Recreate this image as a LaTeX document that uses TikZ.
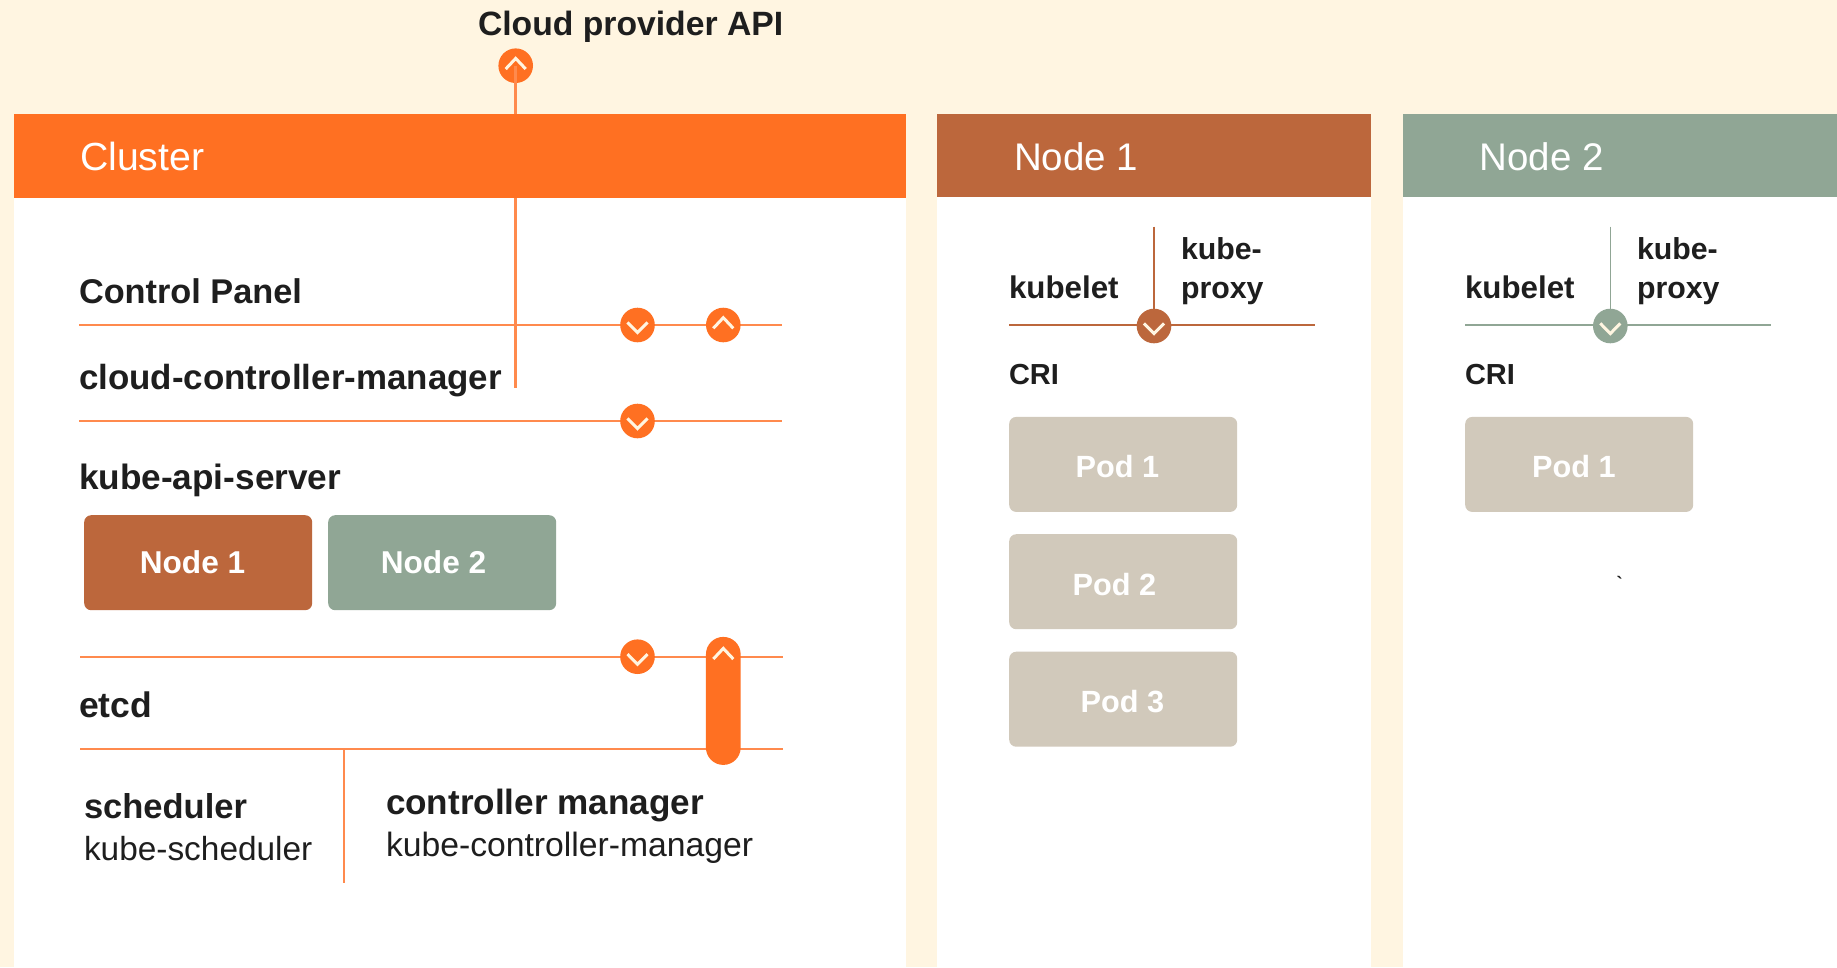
\documentclass[tikz,border=0pt]{standalone}
\usepackage{fontspec}
\setmainfont{Liberation Sans}
\newfontfamily\tickfont{Liberation Sans}
\definecolor{bgc}{HTML}{FFF5E1}
\definecolor{orangec}{HTML}{FF7022}
\definecolor{orangel}{HTML}{FF8A4D}
\definecolor{brownc}{HTML}{BC673C}
\definecolor{greenc}{HTML}{90A695}
\definecolor{podc}{HTML}{D1C9BB}
\definecolor{inkc}{HTML}{1E1E1E}
\tikzset{
  panel/.style={fill=white,draw=none},
  head/.style={draw=none},
  txt/.style={anchor=base west,inner sep=0pt,outer sep=0pt,text=inkc},
  btxt/.style={txt,font=\fontsize{#1}{#1}\selectfont\bfseries},
  rtxt/.style={txt,font=\fontsize{#1}{#1}\selectfont},
  htxt/.style={txt,text=white,font=\fontsize{#1}{#1}\selectfont},
  boxtxt/.style={anchor=base,inner sep=0pt,outer sep=0pt,text=white,font=\fontsize{#1}{#1}\selectfont\bfseries},
  box/.style={rectangle,rounded corners=7pt,inner sep=0pt,minimum width=228pt,minimum height=95pt,anchor=north west},
  dot/.style={circle,fill=#1,draw=none,inner sep=0pt,minimum size=34.6pt},
  chev/.style={draw=bgc,line width=3pt},
  rule/.style={draw=#1,line width=2pt},
  thinrule/.style={draw=#1,line width=1.4pt},
  thick rule/.style={draw=orangel,line width=3pt}
}
\newcommand{\chevup}[2]{\draw[chev] (#1-10,#2+3.3) -- (#1,#2-7.3) -- (#1+10,#2+3.3);}
\newcommand{\chevdn}[2]{\draw[chev] (#1-10,#2-2.6) -- (#1,#2+7.6) -- (#1+10,#2-2.6);}
\begin{document}
\begin{tikzpicture}[x=1pt,y=-1pt]
\useasboundingbox (0,0) rectangle (1837,967);
\fill[bgc] (0,0) rectangle (1837,967);
% panels
\node[panel,rectangle,inner sep=0,minimum width=892pt,minimum height=853pt,anchor=north west] (clusterpanel) at (14,114) {};
\node[panel,rectangle,inner sep=0,minimum width=434pt,minimum height=853pt,anchor=north west] (nodeonepanel) at (937,114) {};
\node[panel,rectangle,inner sep=0,minimum width=434pt,minimum height=853pt,anchor=north west] (nodetwopanel) at (1403,114) {};
% API connector (under header)
\coordinate (ccmend) at (515.7,388);
\node[dot=orangec] (api) at (515.7,65.7) {};
\draw[thick rule] (api.center) -- (ccmend);
\node[head,fill=orangec,rectangle,inner sep=0,minimum width=892pt,minimum height=84pt,anchor=north west] (clusterhead) at (14,114) {};
\node[head,fill=brownc,rectangle,inner sep=0,minimum width=434pt,minimum height=82.5pt,anchor=north west] (nodeonehead) at (937,114) {};
\node[head,fill=greenc,rectangle,inner sep=0,minimum width=434pt,minimum height=82.5pt,anchor=north west] (nodetwohead) at (1403,114) {};
\node[htxt=39.2] (clustertxt) at (80,170) {Cluster};
\node[htxt=38.5] (nodeonetxt) at (1014,170) {Node 1};
\node[htxt=38.5] (nodetwotxt) at (1479.5,170) {Node 2};
\node[btxt=33.7] (cloudapi) at (478,35.5) {Cloud provider API};
% horizontal rules
\coordinate (a1) at (79,325); \coordinate (a2) at (782,325);
\coordinate (b1) at (79,421); \coordinate (b2) at (782,421);
\coordinate (c1) at (80,656.7); \coordinate (c2) at (783,656.7);
\coordinate (d1) at (80,748.7); \coordinate (d2) at (783,748.7);
\coordinate (e2) at (344,882.7); \coordinate (e1) at (344,748.7);
\draw[rule=orangel] (a1) -- (a2);
\draw[rule=orangel] (b1) -- (b2);
\draw[rule=orangel] (c1) -- (c2);
\draw[rule=orangel] (d1) -- (d2);
\draw[rule=orangel] (e1) -- (e2);
\node[dot=orangec] (adn) at (637.5,325) {};
\node[dot=orangec] (aup) at (723.3,325) {};
\node[dot=orangec] (bdn) at (637.5,421) {};
\node[dot=orangec] (cdn) at (637.5,656.7) {};
\node[rectangle,fill=orangec,rounded corners=17.3pt,inner sep=0,minimum width=34.7pt,minimum height=128pt,anchor=north] (pill) at (723.3,636.7) {};
\chevup{515.7}{65.7}
\chevdn{637.5}{325}
\chevup{723.3}{325}
\chevdn{637.5}{421}
\chevdn{637.5}{656.7}
\chevup{723.3}{655.7}
% cluster text
\node[btxt=34.3] (ctrl) at (79,303.5) {Control Panel};
\node[btxt=34.9] (ccm) at (79,389.5) {cloud-controller-manager};
\node[btxt=35.2] (kas) at (79,489.5) {kube-api-server};
\node[btxt=35.5] (etcd) at (79,717.7) {etcd};
\node[btxt=34.5] (sch) at (84,818.5) {scheduler};
\node[rtxt=33.4] (ksch) at (84,860) {kube-scheduler};
\node[btxt=35.1] (cm) at (386,814) {controller manager};
\node[rtxt=33.7] (kcm) at (386,856.5) {kube-controller-manager};
\node[box,fill=brownc] (nb1) at (84,515) {};
\node[box,fill=greenc] (nb2) at (328,515) {};
\node[boxtxt=31.6] (nb1t) at (192.5,573.5) {Node 1};
\node[boxtxt=31.6] (nb2t) at (433.5,573) {Node 2};
% node 1 panel
\coordinate (n1top) at (1154,226.7);
\coordinate (n1l) at (1009,325); \coordinate (n1r) at (1315,325);
\coordinate (n1mid) at (1154,325);
\draw[thinrule=brownc] (n1l) -- (n1r);
\draw[thinrule=brownc] (n1top) -- (n1mid);
\node[dot=brownc] (n1dot) at (1154,326) {};
\chevdn{1154}{326}
\node[btxt=31.3] (n1k) at (1009,298.5) {kubelet};
\node[btxt=30.3] (n1p1) at (1181,259) {kube-};
\node[btxt=30.3] (n1p2) at (1181,298.5) {proxy};
\node[btxt=29] (n1c) at (1009,384) {CRI};
\node[box,fill=podc] (p1) at (1009,416.7) {};
\node[box,fill=podc] (p2) at (1009,534) {};
\node[box,fill=podc] (p3) at (1009,651.5) {};
\node[boxtxt=30.7] (p1t) at (1117.5,477.5) {Pod 1};
\node[boxtxt=30.7] (p2t) at (1114.5,595.5) {Pod 2};
\node[boxtxt=30.7] (p3t) at (1122.5,712.5) {Pod 3};
% node 2 panel
\coordinate (n2top) at (1610.3,226.7);
\coordinate (n2l) at (1465,325); \coordinate (n2r) at (1771,325);
\coordinate (n2mid) at (1610.3,325);
\draw[thinrule=greenc] (n2l) -- (n2r);
\draw[thinrule=greenc] (n2top) -- (n2mid);
\node[dot=greenc] (n2dot) at (1610.3,326) {};
\chevdn{1610.3}{326}
\node[btxt=31.3] (n2k) at (1465,298.5) {kubelet};
\node[btxt=30.3] (n2p1) at (1637,259) {kube-};
\node[btxt=30.3] (n2p2) at (1637,298.5) {proxy};
\node[btxt=29] (n2c) at (1465,384) {CRI};
\node[box,fill=podc] (q1) at (1465,416.7) {};
\node[boxtxt=30.7] (q1t) at (1574,477.5) {Pod 1};
\node[txt,font=\fontsize{18}{18}\selectfont\tickfont\bfseries] (tick) at (1616.5,589) {\char"60};
\end{tikzpicture}
\end{document}
